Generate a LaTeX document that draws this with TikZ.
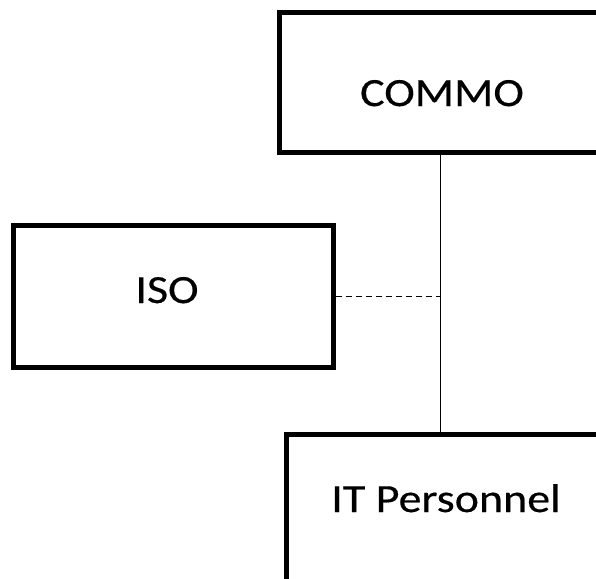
\documentclass[tikz,border=0pt]{standalone}
\usepackage{fontspec}
\setmainfont{Carlito}
\newfontfamily\lblfont[FakeStretch=1.15,FakeBold=0.4]{Carlito}
\begin{document}
\begin{tikzpicture}[x=1pt,y=-1pt,
  box/.style={draw=black,line width=5pt,fill=white,rectangle,inner sep=0pt},
  lbl/.style={inner sep=0pt,anchor=base,text=black,font=\lblfont\fontsize{40}{46}\selectfont},
  link/.style={draw=black,line width=1pt}]
\useasboundingbox (0,0) rectangle (596,578);
\clip (0,0) rectangle (596,578);
% boxes (right/bottom parts fall outside the picture)
\node[box,minimum width=361pt,minimum height=139pt] (commo) at (459.5,82.5) {};
\node[box,minimum width=320pt,minimum height=142pt] (iso) at (173,296) {};
\node[box,minimum width=354pt,minimum height=186pt] (it) at (463,527) {};
\coordinate (j) at (440,296);
\draw[link] (commo.south -| j) -- (it.north -| j);
\draw[link,dash pattern=on 6pt off 4pt] (iso.east) -- (j);
\node[lbl] (tcommo) at (442,106) {COMMO};
\node[lbl] (tiso) at (167,303) {ISO};
\node[lbl] (tit) at (446,512) {IT Personnel};
\end{tikzpicture}
\end{document}
